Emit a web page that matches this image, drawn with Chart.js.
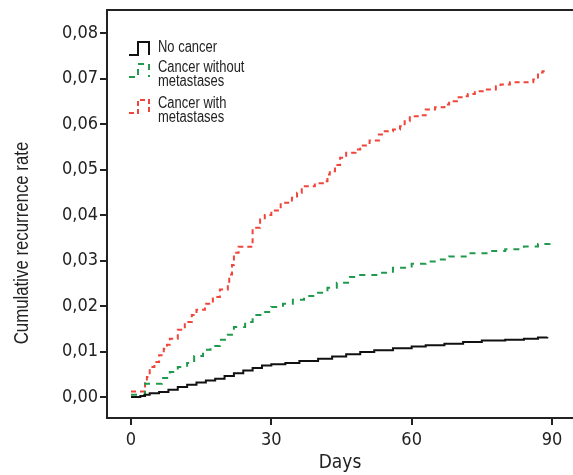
<!DOCTYPE html>
<html>
<head>
<meta charset="utf-8">
<script src="https://cdn.jsdelivr.net/npm/chart.js@4.4.1/dist/chart.umd.min.js"></script>
<style>
    html, body { margin: 0; padding: 0; background: #fff; }
    #wrap { width: 573px; height: 475px; }
</style>
</head>
<body>
<div id="wrap"><canvas id="km-chart" width="573" height="475"></canvas></div>
<script>
    "use strict";

    var TICK_FONT = "'DejaVu Sans Condensed', 'Liberation Sans', sans-serif";
    var TEXT_FONT = "'Liberation Sans', Arial, sans-serif";

    // Tick labels
    var xTicks = [0, 30, 60, 90];
    var yTicks = [0, 0.01, 0.02, 0.03, 0.04, 0.05, 0.06, 0.07, 0.08];

    // No cancer
    var noCancerDays = [0, 2, 3, 4, 6, 8, 10, 12, 14, 16, 18, 20, 22, 24, 26, 28, 30, 33, 36, 40, 43, 46, 49, 52, 56, 60, 63, 67, 71, 75, 80, 84, 87, 89];
    var noCancerRate = [0, 0.0002, 0.0005, 0.0008, 0.0011, 0.0016, 0.0022, 0.0027, 0.0032, 0.0036, 0.0040, 0.0046, 0.0052, 0.0058, 0.0064, 0.0069, 0.0072, 0.0075, 0.0079, 0.0084, 0.0089, 0.0094, 0.0099, 0.0103, 0.0107, 0.0111, 0.0114, 0.0117, 0.0121, 0.0124, 0.0126, 0.0128, 0.0131, 0.0132];

    // Cancer without metastases
    var noMetaDays = [0, 3, 6.6, 8.3, 10, 12, 13.5, 15.4, 17, 19, 20.7, 22, 24.4, 26, 28, 30, 32.5, 34.6, 37, 39.7, 42, 44, 46.8, 49, 53, 56, 60, 63, 66, 68, 72, 76, 80, 84, 87, 89.5];
    var noMetaRate = [0.0005, 0.0029, 0.0042, 0.0055, 0.0066, 0.0075, 0.0090, 0.0104, 0.0112, 0.0126, 0.0137, 0.0154, 0.0165, 0.0180, 0.0187, 0.0198, 0.0205, 0.0214, 0.0222, 0.0229, 0.0240, 0.0251, 0.0264, 0.0268, 0.0273, 0.0284, 0.0293, 0.0298, 0.0302, 0.0309, 0.0316, 0.0321, 0.0325, 0.0331, 0.0336, 0.0340];

    // Cancer with metastases
    var metaDays = [0, 3, 3.4, 4, 5, 6, 7, 7.7, 8.3, 10, 11.5, 13, 14, 15.8, 17.5, 19, 20.7, 21, 21.6, 22, 23, 26, 27.6, 28.6, 30, 32, 34.4, 35.5, 36.5, 39.3, 41, 42, 42.5, 43.6, 44.7, 46, 48, 49, 51, 53, 54, 56, 57.5, 58.5, 59.6, 62, 63, 65, 67, 68, 69.7, 71, 72, 73.5, 75.6, 78, 79, 81, 86, 87, 88, 89];
    var metaRate = [0.0012, 0.0030, 0.0044, 0.0066, 0.0077, 0.0092, 0.0106, 0.0115, 0.0128, 0.0148, 0.0165, 0.0180, 0.0192, 0.0205, 0.0220, 0.0236, 0.0250, 0.0269, 0.0290, 0.0317, 0.0330, 0.0372, 0.0390, 0.0400, 0.0410, 0.0427, 0.0438, 0.0449, 0.0463, 0.0470, 0.0474, 0.0489, 0.0496, 0.0510, 0.0526, 0.0537, 0.0544, 0.0553, 0.0564, 0.0577, 0.0584, 0.0588, 0.0595, 0.0606, 0.0617, 0.0619, 0.0632, 0.0637, 0.0643, 0.0650, 0.0659, 0.0661, 0.0666, 0.0672, 0.0676, 0.0683, 0.0687, 0.0692, 0.0698, 0.0713, 0.0716, 0.0718];

    var seriesNames = ["No cancer", "Cancer without metastases", "Cancer with metastases"];
    var legendLines = [["No cancer"], ["Cancer without", "metastases"], ["Cancer with", "metastases"]];
    var seriesColors = ["#111111", "#1f9a4c", "#f0453a"];

    function toPoints(days, rates) {
        return days.map(function (d, i) { return {x: d, y: rates[i]}; });
    }

    // narrow looking text: squeeze a regular face horizontally
    function narrowText(ctx, txt, x, y, squeeze) {
        ctx.save();
        ctx.translate(x, y);
        ctx.scale(squeeze, 1);
        ctx.fillText(txt, 0, 0);
        ctx.restore();
    }

    // top frame line, y title and the step-style legend
    var decor = {
        id: "decor",
        afterDraw: function (chart) {
            var ctx = chart.ctx;
            var area = chart.chartArea;
            ctx.save();
            ctx.strokeStyle = "#222";
            ctx.lineWidth = 2;
            ctx.beginPath();
            ctx.moveTo(area.left - 1, area.top);
            ctx.lineTo(area.right, area.top);
            ctx.stroke();

            ctx.fillStyle = "#222";
            ctx.font = "21px " + TEXT_FONT;
            ctx.textAlign = "center";
            ctx.textBaseline = "middle";
            ctx.translate(22, 243);
            ctx.rotate(-Math.PI / 2);
            narrowText(ctx, "Cumulative recurrence rate", 0, 0, 0.8);
            ctx.restore();

            // legend
            var tops = [42, 64, 100];
            var dashes = [[], [6, 5], [5, 3]];
            ctx.save();
            ctx.lineWidth = 2;
            ctx.font = "16px " + TEXT_FONT;
            ctx.fillStyle = "#222";
            ctx.textBaseline = "middle";
            legendLines.forEach(function (lines, i) {
                var t = tops[i], b = t + 13;
                ctx.strokeStyle = seriesColors[i];
                ctx.setLineDash(dashes[i]);
                ctx.beginPath();
                ctx.moveTo(129, b);
                ctx.lineTo(138, b);
                ctx.lineTo(138, t);
                ctx.lineTo(149, t);
                ctx.lineTo(149, b);
                ctx.stroke();
                lines.forEach(function (txt, j) {
                    narrowText(ctx, txt, 158, (i === 0 ? 48 : t + 4) + j * 14, 0.81);
                });
            });
            ctx.restore();
        }
    };

    var ctx1 = document.getElementById("km-chart").getContext("2d");
    var kmChart = new Chart(ctx1, {
        type: "line",
        data: {
            datasets: [
                {
                    label: seriesNames[0],
                    data: toPoints(noCancerDays, noCancerRate),
                    borderColor: seriesColors[0],
                    borderWidth: 2,
                    stepped: true
                },
                {
                    label: seriesNames[1],
                    data: toPoints(noMetaDays, noMetaRate),
                    borderColor: seriesColors[1],
                    borderWidth: 2,
                    borderDash: [6, 6],
                    stepped: true
                },
                {
                    label: seriesNames[2],
                    data: toPoints(metaDays, metaRate),
                    borderColor: seriesColors[2],
                    borderWidth: 2,
                    borderDash: [5, 4],
                    stepped: true
                }
            ]
        },
        options: {
            responsive: false,
            animation: false,
            layout: {padding: {top: 10, right: 0, left: 0, bottom: 0}},
            elements: {point: {radius: 0}},
            plugins: {legend: {display: false}, tooltip: {enabled: false}},
            scales: {
                x: {
                    type: "linear",
                    min: -5.13,
                    max: 94.49,
                    afterBuildTicks: function (scale) {
                        scale.ticks = xTicks.map(function (v) { return {value: v}; });
                    },
                    afterFit: function (scale) {
                        scale.height = 57;
                        scale.paddingLeft = 0;
                        scale.paddingRight = 0;
                    },
                    border: {display: true, color: "#222", width: 2},
                    grid: {drawOnChartArea: false, drawTicks: true, tickLength: 7, color: "#222", lineWidth: 2},
                    ticks: {color: "#222", padding: 5, font: {family: TICK_FONT, size: 18}, maxRotation: 0},
                    title: {display: true, text: "Days", color: "#222", font: {family: TICK_FONT, size: 19, lineHeight: 1}, padding: {top: 0, bottom: 2}}
                },
                y: {
                    min: -0.004615,
                    max: 0.085055,
                    afterBuildTicks: function (scale) {
                        scale.ticks = yTicks.map(function (v) { return {value: v}; });
                    },
                    afterFit: function (scale) {
                        scale.width = 107;
                        scale.paddingTop = 0;
                        scale.paddingBottom = 0;
                    },
                    border: {display: true, color: "#222", width: 2},
                    grid: {drawOnChartArea: false, drawTicks: true, tickLength: 7, color: "#222", lineWidth: 2},
                    ticks: {
                        color: "#222",
                        padding: 2,
                        font: {family: TICK_FONT, size: 18},
                        callback: function (v) { return v.toFixed(2).replace(".", ","); }
                    }
                }
            }
        },
        plugins: [decor]
    });
</script>
</body>
</html>
